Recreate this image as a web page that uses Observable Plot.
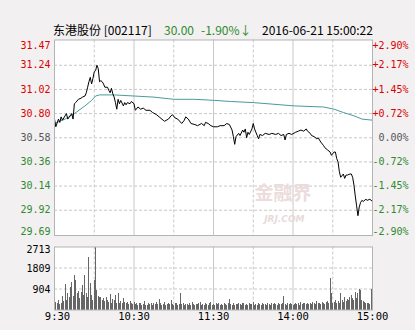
<!DOCTYPE html>
<html><head><meta charset="utf-8">
<script src="https://cdn.jsdelivr.net/npm/d3@7"></script>
<script src="https://cdn.jsdelivr.net/npm/@observablehq/plot@0.6"></script>
<style>
html,body{margin:0;padding:0;background:#f2f0f1;}
#wrap{position:relative;width:415px;height:330px;background:#f2f0f1;overflow:hidden;}
.t{position:absolute;top:22px;font-family:"Noto Sans CJK SC",sans-serif;font-size:12px;line-height:16px;white-space:nowrap;}
#a,#b{position:absolute;left:0;}
#a{top:0}#b{top:240px}
svg{overflow:visible}
</style></head><body>
<div id="wrap">
<div class="t" id="t1" style="left:53px;color:#000"></div>
<div class="t" id="t2" style="left:164px;color:#2e8b2e"></div>
<div class="t" id="t3" style="left:201px;color:#2e8b2e"></div>
<div class="t" id="t4" style="left:262px;color:#000"></div>
<div id="a"></div><div id="b"></div>
</div>
<script>
// ---- header ----
const stockName = "东港股份";
const stockCode = "002117";
const lastPrice = "30.00";
const changePct = "-1.90%↓";
const stamp = "2016-06-21 15:00:22";

// ---- axis labels ----
const priceTickLabels = ["31.47","31.24","31.02","30.80","30.58","30.36","30.14","29.92","29.69"];
const pctTickLabels = ["+2.90%","+2.17%","+1.45%","+0.72%","0.00%","-0.72%","-1.45%","-2.17%","-2.90%"];
const volTickLabels = ["2713","1809","904"];
const timeTicks = [0, 60, 120, 180, 240];
const timeLabels = ["9:30","10:30","11:30","14:00","15:00"];
const solidGrid = [60, 120, 180];
const dashGrid = [30, 90, 150, 210];

// ---- price series (minute index from 9:30, price) ----
const priceMin = [0,1,3,4,5,6,9,10,13,14,15,16,18,20,21,23,24,25,26,27,28,29,30,31,32,33,34,35,36,37,38,40,41,42,43,44,45,46,47,48,49,50,52,53,54,55,57,58,60,61,63,65,67,69,72,74,77,79,82,83,86,88,89,91,93,96,98,99,101,103,106,108,111,113,114,116,118,120,123,125,128,130,132,134,135,136,137,139,140,142,143,144,145,146,147,149,150,151,153,154,155,157,159,162,164,167,169,171,173,174,175,177,179,182,184,186,188,190,191,193,194,196,198,199,201,203,204,206,208,209,211,212,213,214,215,216,218,219,220,221,223,224,225,226,227,228,229,230,231,232,233,235,236,238,240];
const priceVal = [30.75,30.68,30.75,30.72,30.77,30.74,30.80,30.75,30.80,30.75,30.89,30.90,30.93,30.94,30.95,30.96,30.99,31.04,31.09,31.13,31.07,31.12,31.18,31.19,31.24,31.21,31.09,31.10,31.09,31.07,31.04,31.04,31.01,30.99,31.03,30.98,30.95,30.90,30.84,30.93,30.89,30.92,30.87,30.90,30.88,30.90,30.89,30.91,30.89,30.83,30.86,30.84,30.85,30.83,30.83,30.81,30.79,30.77,30.74,30.73,30.75,30.78,30.79,30.76,30.75,30.71,30.74,30.77,30.75,30.71,30.70,30.69,30.71,30.69,30.72,30.71,30.69,30.68,30.68,30.69,30.69,30.71,30.70,30.65,30.59,30.52,30.59,30.62,30.60,30.65,30.63,30.66,30.58,30.63,30.61,30.66,30.71,30.66,30.60,30.57,30.61,30.60,30.62,30.61,30.62,30.61,30.62,30.60,30.61,30.56,30.61,30.62,30.61,30.63,30.64,30.65,30.64,30.66,30.64,30.62,30.60,30.59,30.57,30.58,30.54,30.51,30.49,30.47,30.45,30.42,30.45,30.45,30.39,30.36,30.27,30.22,30.25,30.21,30.24,30.24,30.25,30.25,30.22,30.15,30.05,29.96,29.87,29.95,29.99,30.01,30.00,30.02,30.01,30.02,30.00];

// ---- average price series ----
const avgMin = [0,8,15,23,28,31,34,45,60,75,90,106,121,133,150,181,203,211,218,226,232,240];
const avgVal = [30.71,30.75,30.80,30.87,30.92,30.96,30.97,30.97,30.96,30.95,30.93,30.93,30.92,30.91,30.90,30.87,30.86,30.84,30.81,30.78,30.75,30.74];

// ---- volume per minute (index = minute from 9:30) ----
const volume = [
470,330,280,420,250,300,560,380,1090,420,
690,520,975,1190,600,1480,1260,690,800,480,
760,1050,620,1480,690,540,2260,1120,620,430,
1260,2713,830,560,540,550,430,480,360,520,
400,330,670,300,450,420,620,290,690,260,
350,280,500,310,300,330,250,360,270,240,
310,220,280,180,260,300,200,240,350,210,
190,260,230,300,200,280,250,320,230,470,
260,200,240,310,190,220,280,250,400,230,
210,260,300,180,240,690,220,260,200,250,
230,190,270,210,330,240,200,250,220,260,
330,200,240,180,260,230,210,280,330,200,
240,190,260,220,300,180,250,210,270,230,
200,260,470,240,210,290,180,250,220,270,
230,190,260,300,210,240,180,270,220,250,
330,210,240,200,280,230,190,260,220,250,
210,270,240,190,300,220,260,230,200,280,
250,220,300,575,240,210,270,230,260,220,
200,250,300,230,270,210,330,240,260,290,
220,300,250,270,230,330,280,240,360,260,
290,250,330,270,240,310,380,300,1335,690,
280,330,400,260,350,300,690,420,310,545,
380,450,400,520,620,480,430,760,500,690,
900,830,420,380,330,300,270,290,250,900,
300];

document.getElementById("t1").textContent = stockName + " [" + stockCode + "]";
document.getElementById("t2").textContent = lastPrice;
document.getElementById("t3").textContent = changePct;
document.getElementById("t4").textContent = stamp;

const mono = "'DejaVu Sans Mono','Liberation Mono',monospace";
const red = "#dd0000", green = "#2e8b2e", flat = "#555555";
const gridC = "#c8c8c8", borderC = "#b4b4b4", teal = "#4a9b9b";
const n = priceTickLabels.length;
const tickRows = priceTickLabels.map((lab, i) => ({
  v: Number(lab), lab, pct: pctTickLabels[i],
  c: i < 4 ? red : i === 4 ? flat : green,
  pos: i === 0 ? "top" : i === n - 1 ? "bot" : "mid"
}));
const price = priceMin.map((m, i) => ({m, p: priceVal[i]}));
const avg = avgMin.map((m, i) => ({m, p: avgVal[i]}));

function sideLabels(pos, dy) {
  const rows = tickRows.filter(d => d.pos === pos);
  return [
    Plot.text(rows, {y: "v", text: "lab", fill: "c", frameAnchor: "left", textAnchor: "end", dx: -4, dy, fontFamily: mono, fontSize: 10}),
    Plot.text(rows, {y: "v", text: "pct", fill: "c", frameAnchor: "right", textAnchor: "end", dx: 36, dy, fontFamily: mono, fontSize: 10})
  ];
}

const chartA = Plot.plot({
  width: 415, height: 240,
  marginLeft: 54, marginRight: 43, marginTop: 39.5, marginBottom: 5,
  style: {background: "transparent", overflow: "visible"},
  x: {domain: [0, 240], axis: null},
  y: {domain: [29.69, 31.47], axis: null},
  color: {type: "identity"},
  marks: [
    Plot.frame({fill: "white", stroke: "none"}),
    Plot.ruleY(tickRows.filter(d => d.pos === "mid"), {y: "v", stroke: gridC, strokeDasharray: "3,2"}),
    Plot.ruleX(solidGrid, {stroke: gridC}),
    Plot.ruleX(dashGrid, {stroke: gridC, strokeDasharray: "3,2"}),
    Plot.text(["金融界"], {frameAnchor: "bottom-right", dx: -61, dy: -36, fontSize: 19, fontWeight: "bold", fill: "#ecdcdc", fontFamily: "'Noto Sans CJK SC',sans-serif"}),
    Plot.text(["JRJ.COM"], {frameAnchor: "bottom-right", dx: -68, dy: -14, fontSize: 9, fontWeight: "bold", fontStyle: "italic", fill: "#e8dada", fontFamily: "'DejaVu Sans',sans-serif"}),
    Plot.line(avg, {x: "m", y: "p", stroke: teal, strokeWidth: 1}),
    Plot.line(price, {x: "m", y: "p", stroke: "#000", strokeWidth: 1}),
    Plot.frame({stroke: borderC}),
    ...sideLabels("top", 5.5),
    ...sideLabels("mid", 0),
    ...sideLabels("bot", -4)
  ]
});
document.getElementById("a").appendChild(chartA);

const volRows = volTickLabels.map((lab, i) => ({v: Number(lab), lab, pos: i === 0 ? "top" : "mid"}));
const timeRows = timeTicks.map((t, i) => ({t, lab: timeLabels[i], first: i === 0}));

const chartB = Plot.plot({
  width: 415, height: 90,
  marginLeft: 54, marginRight: 43, marginTop: 6.5, marginBottom: 20.5,
  style: {background: "transparent", overflow: "visible"},
  x: {domain: [0, 240], axis: null},
  y: {domain: [0, 2713], axis: null},
  marks: [
    Plot.frame({fill: "white", stroke: "none"}),
    Plot.ruleY(volRows.filter(d => d.pos === "mid"), {y: "v", stroke: gridC, strokeDasharray: "3,2"}),
    Plot.ruleX(solidGrid, {stroke: gridC}),
    Plot.ruleX(dashGrid, {stroke: gridC, strokeDasharray: "3,2"}),
    Plot.ruleX(volume, {x: (d, i) => i, y: d => d, stroke: "#666666", strokeWidth: 1, shapeRendering: "crispEdges"}),
    Plot.frame({stroke: borderC}),
    Plot.text(volRows.filter(d => d.pos === "top"), {y: "v", text: "lab", frameAnchor: "left", textAnchor: "end", dx: -4, dy: 3, fill: "#000", fontFamily: mono, fontSize: 10}),
    Plot.text(volRows.filter(d => d.pos === "mid"), {y: "v", text: "lab", frameAnchor: "left", textAnchor: "end", dx: -4, dy: 1, fill: "#000", fontFamily: mono, fontSize: 10}),
    Plot.text(timeRows.filter(d => d.first), {x: "t", text: "lab", frameAnchor: "bottom", dy: 10, dx: 3, fill: "#000", fontFamily: mono, fontSize: 10.5}),
    Plot.text(timeRows.filter(d => !d.first), {x: "t", text: "lab", frameAnchor: "bottom", dy: 10, fill: "#000", fontFamily: mono, fontSize: 10.5})
  ]
});
document.getElementById("b").appendChild(chartB);
</script>
</body></html>
